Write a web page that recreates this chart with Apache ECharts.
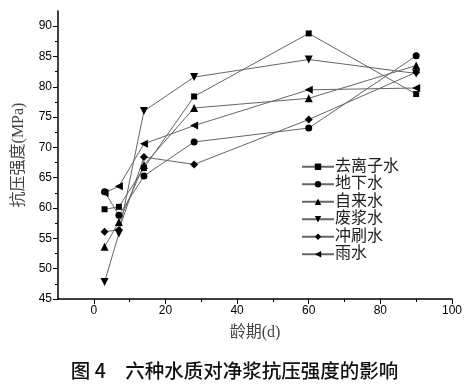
<!DOCTYPE html>
<html>
<head>
<meta charset="utf-8">
<script src="https://cdn.jsdelivr.net/npm/echarts@6/dist/echarts.min.js"></script>
<style>html,body{margin:0;padding:0;background:#fff;}#c{width:469px;height:388px;}</style>
</head>
<body>
<div id="c"></div>
<script>
var ages = [3, 7, 14, 28, 60, 90];
var seriesNames = ['去离子水', '地下水', '自来水', '废浆水', '冲刷水', '雨水'];
var deionized = [59.8, 60.2, 66.6, 78.4, 88.8, 78.8];
var ground    = [62.7, 58.8, 65.3, 70.9, 73.2, 85.1];
var tap       = [53.6, 57.7, 67.1, 76.5, 78.1, 83.5];
var waste     = [47.8, 55.8, 76.0, 81.6, 84.5, 82.2];
var flush     = [56.1, 56.4, 68.4, 67.2, 74.6, 82.4];
var rain      = [62.5, 63.6, 70.6, 73.6, 79.5, 79.8];
var xMajorTicks = [0, 20, 40, 60, 80, 100];
var xMinorTicks = [10, 30, 50, 70, 90];
var yMajorTicks = [45, 50, 55, 60, 65, 70, 75, 80, 85, 90];
var yMinorTicks = [47.5, 52.5, 57.5, 62.5, 67.5, 72.5, 77.5, 82.5, 87.5];
var xTitle = '龄期(d)';
var yTitle = '抗压强度(MPa)';
var figTitle = '图 4\u3000六种水质对净浆抗压强度的影响';

var allValues = [deionized, ground, tap, waste, flush, rain];
var symbols = ['rect', 'circle', 'triangle', 'path://M0,0 L10,0 L5,10 Z', 'diamond', 'path://M0,5 L10,0 L10,10 Z'];
var symbolSizes = [6, 7, 8, 8, 8, 8];

function pairs(vals) { return ages.map(function (a, i) { return [a, vals[i]]; }); }

var serifCJK = '"Liberation Serif", "Noto Sans CJK SC", serif';
var chart = echarts.init(document.getElementById('c'));
chart.setOption({
  animation: false,
  backgroundColor: '#fff',
  title: {
    text: figTitle, left: 'center', bottom: 3,
    textStyle: { fontFamily: '"Noto Sans CJK SC"', fontSize: 19.5, fontWeight: 500, color: '#111' }
  },
  grid: { left: 58, right: 17, top: 11, bottom: 89 },
  legend: {
    orient: 'vertical', left: 296, top: 153,
    itemWidth: 32, itemHeight: 8, itemGap: 0,
    data: seriesNames,
    textStyle: { fontFamily: serifCJK, fontSize: 16, color: '#222', lineHeight: 17.5, padding: [0, 0, 0, -4] }
  },
  xAxis: [{
    type: 'value', min: -10, max: 100,
    name: xTitle, nameLocation: 'middle', nameGap: 26,
    nameTextStyle: { fontFamily: serifCJK, fontSize: 16, color: '#444' },
    axisLine: { show: true, lineStyle: { color: '#000', width: 1.5 } },
    axisTick: { show: true, inside: false, length: 5, customValues: xMajorTicks, lineStyle: { color: '#000' } },
    axisLabel: { customValues: xMajorTicks, fontFamily: '"Liberation Sans", Arial', fontSize: 12, color: '#000', margin: 6 },
    splitLine: { show: false }
  }, {
    type: 'value', min: -10, max: 100, position: 'bottom',
    axisLine: { show: false },
    axisTick: { show: true, length: 3, customValues: xMinorTicks, lineStyle: { color: '#000' } },
    axisLabel: { show: false },
    splitLine: { show: false }
  }],
  yAxis: [{
    type: 'value', min: 45, max: 92.5, position: 'left',
    name: yTitle, nameLocation: 'middle', nameGap: 31, nameRotate: 90,
    nameTextStyle: { fontFamily: serifCJK, fontSize: 16, color: '#444' },
    axisLine: { show: true, onZero: false, lineStyle: { color: '#000', width: 1.5 } },
    axisTick: { show: true, length: 5, customValues: yMajorTicks, lineStyle: { color: '#000' } },
    axisLabel: { customValues: yMajorTicks, fontFamily: '"Liberation Sans", Arial', fontSize: 12, color: '#000', margin: 6 },
    splitLine: { show: false }
  }, {
    type: 'value', min: 45, max: 92.5, position: 'left',
    axisLine: { show: false, onZero: false },
    axisTick: { show: true, length: 3, customValues: yMinorTicks, lineStyle: { color: '#000' } },
    axisLabel: { show: false },
    splitLine: { show: false }
  }],
  series: seriesNames.map(function (n, i) {
    return {
      name: n, type: 'line', xAxisIndex: 0, yAxisIndex: 0,
      data: pairs(allValues[i]),
      symbol: symbols[i], symbolSize: symbolSizes[i], showAllSymbol: true,
      lineStyle: { color: '#666', width: 1 },
      itemStyle: { color: '#000', borderWidth: 0 },
      z: 3
    };
  })
});
</script>
</body>
</html>
